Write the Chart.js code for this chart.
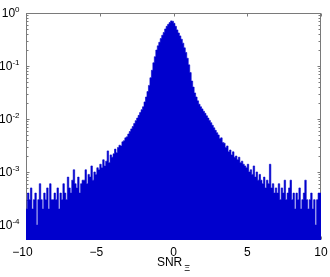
<!DOCTYPE html>
<html>
<head>
<meta charset="utf-8">
<script src="https://cdn.jsdelivr.net/npm/chart.js@4/dist/chart.umd.min.js"></script>
<style>
  html, body { margin: 0; padding: 0; background: #fff; }
</style>
</head>
<body>
<canvas id="ChartSnr" width="330" height="277"></canvas>
<script>
// histogram bins: start and width
const binStart = -10;
const binWidth = 0.1;

// normalised counts, one per bin
const density = [
    3e-4, 2e-4, 4e-4, 3e-4, 5e-4, 2e-4, 3e-4, 4e-4, 1e-4, 3e-4,
    6e-4, 3e-4, 2e-4, 4e-4, 3e-4, 5e-4, 2e-4, 6e-4, 3e-4, 3e-4,
    4e-4, 3e-4, 5e-4, 2e-4, 4e-4, 3e-4, 6e-4, 4e-4, 3e-4, 8e-4,
    5e-4, 4e-4, 7e-4, 1.1e-3, 6e-4, 5e-4, 8e-4, 4e-4, 6e-4, 7e-4,
    7e-4, 1.1e-3, 6e-4, 9e-4, 8e-4, 1.3e-3, 7e-4, 1e-3, 9e-4, 1.2e-3,
    1.1e-3, 1.4e-3, 1.2e-3, 1.7e-3, 1.3e-3, 1.6e-3, 2.5e-3, 1.5e-3, 2.1e-3, 1.9e-3,
    2.2e-3, 2.7e-3, 2.3e-3, 2.9e-3, 3.2e-3, 3.1e-3, 3.7e-3, 3.9e-3, 4.4e-3, 4.6e-3,
    5.2e-3, 5.8e-3, 6.5e-3, 7.2e-3, 8.2e-3, 9.3e-3, 1.04e-2, 1.17e-2, 1.32e-2, 1.5e-2,
    1.7e-2, 2.1e-2, 2.6e-2, 3.3e-2, 4.3e-2, 6e-2, 8.3e-2, 0.115, 0.15, 0.2,
    0.24, 0.28, 0.33, 0.38, 0.43, 0.5, 0.56, 0.61, 0.66, 0.71,
    0.7, 0.64, 0.56, 0.48, 0.42, 0.37, 0.32, 0.27, 0.22, 0.18,
    0.14, 0.105, 0.075, 0.052, 0.04, 0.031, 0.026, 0.022, 0.019, 0.017,
    1.55e-2, 1.4e-2, 1.28e-2, 1.15e-2, 1.04e-2, 9.4e-3, 8.5e-3, 7.6e-3, 6.8e-3, 6.1e-3,
    5.5e-3, 5e-3, 4.3e-3, 4.4e-3, 3.6e-3, 3.5e-3, 2.9e-3, 3.1e-3, 2.4e-3, 2.6e-3,
    2.1e-3, 2.4e-3, 1.9e-3, 2e-3, 1.7e-3, 1.9e-3, 1.5e-3, 1.6e-3, 1.4e-3, 1.3e-3,
    1.2e-3, 1.4e-3, 1e-3, 1.1e-3, 9e-4, 1.3e-3, 8e-4, 1e-3, 7e-4, 9e-4,
    7e-4, 6e-4, 8e-4, 5e-4, 7e-4, 6e-4, 1.4e-3, 5e-4, 6e-4, 4e-4,
    5e-4, 4e-4, 6e-4, 3e-4, 5e-4, 4e-4, 7e-4, 3e-4, 4e-4, 5e-4,
    7e-4, 3e-4, 4e-4, 2e-4, 4e-4, 3e-4, 5e-4, 2e-4, 3e-4, 4e-4,
    7e-4, 3e-4, 2e-4, 3e-4, 4e-4, 2e-4, 3e-4, 1e-4, 3e-4, 4e-4
];

const xTicks = [-10, -5, 0, 5, 10];
const yExponents = [-4, -3, -2, -1, 0];
const xTitle = 'SNR';
const xTitleSub = 'Ξ';

// step outline: one point at each bin's left edge, plus the closing right edge
const points = density.map((v, i) => ({ x: binStart + binWidth * i, y: v }));
points.push({ x: binStart + binWidth * density.length, y: density[density.length - 1] });

const FONT = '"Liberation Sans", Arial, Helvetica, sans-serif';
const AXIS_COLOR = '#7a7a7a';
const BAR_COLOR = '#0000cd';

// matlab-ish box with inward ticks, drawn under the histogram
const boxAxes = {
    id: 'boxAxes',
    beforeDatasetsDraw(chart) {
        const ctx = chart.ctx;
        const a = chart.chartArea;
        const xs = chart.scales.x;
        const ys = chart.scales.y;
        const L = a.left + 0.5, R = a.right - 0.5, T = a.top + 0.5, B = a.bottom - 0.5;
        ctx.save();
        ctx.strokeStyle = AXIS_COLOR;
        ctx.lineWidth = 1;
        ctx.strokeRect(L, T, R - L, B - T);
        ctx.beginPath();
        xTicks.forEach(t => {
            const px = Math.round(xs.getPixelForValue(t)) + 0.5;
            ctx.moveTo(px, T); ctx.lineTo(px, T + 3);
            ctx.moveTo(px, B); ctx.lineTo(px, B - 3);
        });
        yExponents.forEach(e => {
            for (let m = 1; m <= 9; m++) {
                const v = m * Math.pow(10, e);
                if (v > ys.max || v < ys.min) continue;
                const py = Math.round(ys.getPixelForValue(v)) + 0.5;
                const len = m === 1 ? 3 : 2;
                ctx.moveTo(L, py); ctx.lineTo(L + len, py);
                ctx.moveTo(R, py); ctx.lineTo(R - len, py);
            }
        });
        // minor ticks below 1e-4
        for (let m = 6; m <= 9; m++) {
            const py = Math.round(ys.getPixelForValue(m * 1e-5)) + 0.5;
            ctx.moveTo(L, py); ctx.lineTo(L + 2, py);
            ctx.moveTo(R, py); ctx.lineTo(R - 2, py);
        }
        ctx.stroke();
        ctx.restore();
    },
    afterDraw(chart) {
        const ctx = chart.ctx;
        const a = chart.chartArea;
        const xs = chart.scales.x;
        const ys = chart.scales.y;
        ctx.save();
        ctx.fillStyle = '#000';

        // y labels 10^e
        const xr = a.left - 6.5;
        yExponents.forEach(e => {
            const py = ys.getPixelForValue(Math.pow(10, e));
            const ex = String(e);
            ctx.font = '8px ' + FONT;
            const we = ctx.measureText(ex).width;
            ctx.textAlign = 'left';
            ctx.textBaseline = 'alphabetic';
            ctx.fillText(ex, xr - we, py - 1);
            ctx.font = '12px ' + FONT;
            ctx.textAlign = 'right';
            ctx.textBaseline = 'middle';
            ctx.fillText('10', xr - we, py + 0.5);
        });

        // x labels
        ctx.font = '12px ' + FONT;
        ctx.textBaseline = 'middle';
        xTicks.forEach(t => {
            const px = xs.getPixelForValue(t);
            const digits = String(Math.abs(t));
            const wd = ctx.measureText(digits).width;
            ctx.textAlign = 'right';
            ctx.fillText((t < 0 ? '\u2212' : '') + digits, px + wd / 2, a.bottom + 12.5);
        });

        // x title with subscript
        const cx = (a.left + a.right) / 2;
        ctx.textAlign = 'left';
        ctx.textBaseline = 'alphabetic';
        ctx.font = '12px ' + FONT;
        const wt = ctx.measureText(xTitle).width;
        ctx.font = '9px ' + FONT;
        const ws = ctx.measureText(xTitleSub).width;
        const x0 = cx - (wt + 2 + ws) / 2;
        ctx.font = '12px ' + FONT;
        ctx.fillText(xTitle, x0, a.bottom + 25.5);
        ctx.font = '9px ' + FONT;
        ctx.fillText(xTitleSub, x0 + wt + 2, a.bottom + 30.5);
        ctx.restore();
    }
};

new Chart(document.getElementById('ChartSnr'), {
    type: 'line',
    data: {
        datasets: [{
            data: points,
            stepped: 'after',
            fill: 'start',
            backgroundColor: BAR_COLOR,
            borderColor: BAR_COLOR,
            borderWidth: 0.6,
            pointRadius: 0
        }]
    },
    options: {
        responsive: false,
        animation: false,
        devicePixelRatio: 1,
        layout: {
            padding: { left: 26, right: 9, top: 13, bottom: 37 }
        },
        plugins: {
            legend: { display: false },
            tooltip: { enabled: false }
        },
        scales: {
            x: {
                type: 'linear',
                min: -10,
                max: 10,
                display: false
            },
            y: {
                type: 'logarithmic',
                min: 5.2e-5,
                max: 1,
                display: false
            }
        }
    },
    plugins: [boxAxes]
});
</script>
</body>
</html>
